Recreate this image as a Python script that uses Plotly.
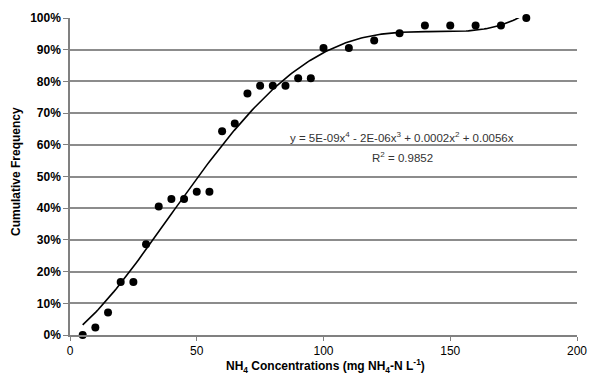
import numpy as np
import plotly.graph_objects as go

# Data
nh4_conc = [5, 10, 15, 20, 25, 30, 35, 40, 45, 50, 55, 60, 65, 70, 75, 80, 85, 90, 95,
            100, 110, 120, 130, 140, 150, 160, 170, 180]
cum_freq = [0.0, 0.024, 0.071, 0.167, 0.167, 0.286, 0.405, 0.429, 0.429, 0.452, 0.452,
            0.643, 0.667, 0.762, 0.786, 0.786, 0.786, 0.810, 0.810,
            0.905, 0.905, 0.929, 0.952, 0.976, 0.976, 0.976, 0.976, 1.0]

x_ticks = [0, 50, 100, 150, 200]
y_ticks = [0, 0.1, 0.2, 0.3, 0.4, 0.5, 0.6, 0.7, 0.8, 0.9, 1.0]
y_tick_labels = ["0%", "10%", "20%", "30%", "40%", "50%", "60%", "70%", "80%", "90%", "100%"]

# 4th-order polynomial trendline through origin (least squares, as in the source)
xa = np.array(nh4_conc, dtype=float)
ya = np.array(cum_freq, dtype=float)
A = np.vstack([xa, xa**2, xa**3, xa**4]).T
coef, *_ = np.linalg.lstsq(A, ya, rcond=None)
xt = np.linspace(min(nh4_conc), max(nh4_conc), 200)
yt = coef[0]*xt + coef[1]*xt**2 + coef[2]*xt**3 + coef[3]*xt**4

W, H = 590, 377
L, R, T, B = 70, 13, 18, 42
pw, ph = W - L - R, H - T - B


def px_to_paper(px, py):
    return (px - L) / pw, 1 - (py - T) / ph


fig = go.Figure()
fig.add_trace(go.Scatter(x=xt, y=yt, mode="lines", cliponaxis=False,
                         line=dict(color="black", width=1.6), hoverinfo="skip"))
fig.add_trace(go.Scatter(x=nh4_conc, y=cum_freq, mode="markers", cliponaxis=False,
                         marker=dict(color="black", size=8)))

font_family = "Liberation Sans, Arial, sans-serif"
fig.update_layout(
    width=W, height=H,
    margin=dict(l=L, r=R, t=T, b=B),
    paper_bgcolor="white", plot_bgcolor="white",
    showlegend=False,
    font=dict(family=font_family, color="black", size=12),
    xaxis=dict(range=[0, 200], tickvals=x_ticks, showgrid=False, zeroline=False,
               automargin=False,
               showline=True, linecolor="#808080", linewidth=1.5,
               ticks="outside", ticklen=4, tickcolor="#808080",
               tickfont=dict(size=12, color="black")),
    yaxis=dict(range=[0, 1.0], tickvals=y_ticks, ticktext=["<b>%s</b>" % t for t in y_tick_labels],
               automargin=False,
               showgrid=True, gridcolor="#8c8c8c", gridwidth=1.5, zeroline=False,
               showline=True, linecolor="#808080", linewidth=1.5,
               ticks="outside", ticklen=5, tickcolor="#808080",
               tickfont=dict(size=12, color="black")),
)

yx, yy = px_to_paper(16, 172)
fig.add_annotation(x=yx, y=yy, xref="paper", yref="paper", showarrow=False,
                   xanchor="center", yanchor="middle",
                   text="<b>Cumulative Frequency</b>", textangle=-90,
                   font=dict(size=12, color="black"))
tx, ty = px_to_paper(325, 366)
fig.add_annotation(x=tx, y=ty, xref="paper", yref="paper", showarrow=False,
                   xanchor="center", yanchor="middle",
                   text="<b>NH<sub>4</sub> Concentrations (mg NH<sub>4</sub>-N L<sup>-1</sup>)</b>",
                   font=dict(size=12, color="black"))

fig.add_annotation(x=131, y=0.625, xref="x", yref="y",
                   text="y = 5E-09x<sup>4</sup> - 2E-06x<sup>3</sup> + 0.0002x<sup>2</sup> + 0.0056x",
                   showarrow=False, font=dict(size=11.5, color="#333333"))
fig.add_annotation(x=131, y=0.56, xref="x", yref="y",
                   text="R<sup>2</sup> = 0.9852",
                   showarrow=False, font=dict(size=11.5, color="#333333"))

fig.write_html("out.html", config={"displayModeBar": False})

# remove the default page margin so the figure sits at the window's top-left corner
with open("out.html", "r", encoding="utf-8") as f:
    html = f.read()
html = html.replace("<head>", "<head><style>html,body{margin:0;padding:0;overflow:hidden;}</style>", 1)
with open("out.html", "w", encoding="utf-8") as f:
    f.write(html)
